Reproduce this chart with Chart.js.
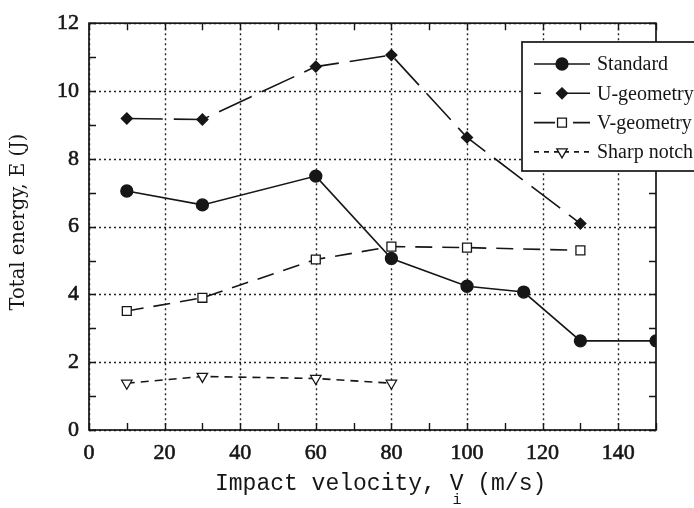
<!DOCTYPE html>
<html>
<head>
<meta charset="utf-8">
<title>Total energy vs impact velocity</title>
<script src="https://cdn.jsdelivr.net/npm/chart.js@4/dist/chart.umd.min.js"></script>
<style>
    html, body { margin: 0; padding: 0; background: #fff; }
    #wrap { width: 694px; height: 508px; }
</style>
</head>
<body>
<div id="wrap"><canvas id="energyChart" width="694" height="508"></canvas></div>
<script>
// tick labels
const xTicks = [0, 20, 40, 60, 80, 100, 120, 140];
const yTicks = [0, 2, 4, 6, 8, 10, 12];

// impact velocity (m/s) / total energy (J) per specimen type
const seriesNames = ['Standard', 'U-geometry', 'V-geometry', 'Sharp notch'];
const standardV = [10, 30, 60, 80, 100, 115, 130, 150];
const standardE = [7.05, 6.64, 7.49, 5.06, 4.24, 4.07, 2.63, 2.63];
const uGeomV = [10, 30, 60, 80, 100, 130];
const uGeomE = [9.19, 9.16, 10.72, 11.06, 8.63, 6.09];
const vGeomV = [10, 30, 60, 80, 100, 130];
const vGeomE = [3.51, 3.90, 5.03, 5.41, 5.38, 5.30];
const sharpV = [10, 30, 60, 80];
const sharpE = [1.38, 1.58, 1.52, 1.38];

const ink = '#161616';
const serif = '"Liberation Serif", "DejaVu Serif", serif';
const wideSerif = '"DejaVu Serif", "Liberation Serif", serif';
const mono = '"Liberation Mono", "DejaVu Sans Mono", monospace';

function pts(xs, ys) {
    return xs.map((x, i) => ({ x: x, y: ys[i] }));
}

// dotted grid, inward ticks on all four sides and the box frame
const frameAndTicks = {
    id: 'frameAndTicks',
    beforeDatasetsDraw(chart) {
        const { ctx, chartArea: a, scales: { x, y } } = chart;
        ctx.save();
        ctx.strokeStyle = '#222';
        ctx.lineWidth = 1.4;
        ctx.setLineDash([2, 3]);
        ctx.beginPath();
        xTicks.forEach(v => {
            const px = Math.round(x.getPixelForValue(v)) + 0.5;
            ctx.moveTo(px, a.top); ctx.lineTo(px, a.bottom);
        });
        yTicks.forEach(v => {
            const py = Math.round(y.getPixelForValue(v)) + 0.5;
            ctx.moveTo(a.left, py); ctx.lineTo(a.right, py);
        });
        ctx.stroke();

        ctx.setLineDash([]);
        ctx.strokeStyle = ink;
        ctx.lineWidth = 1.4;
        ctx.beginPath();
        for (let v = 0; v <= 150; v += 10) {
            const px = Math.round(x.getPixelForValue(v)) + 0.5;
            ctx.moveTo(px, a.bottom); ctx.lineTo(px, a.bottom - 7);
            ctx.moveTo(px, a.top); ctx.lineTo(px, a.top + 7);
        }
        for (let v = 0; v <= 12; v += 1) {
            const py = Math.round(y.getPixelForValue(v)) + 0.5;
            ctx.moveTo(a.left, py); ctx.lineTo(a.left + 7, py);
            ctx.moveTo(a.right, py); ctx.lineTo(a.right - 7, py);
        }
        ctx.stroke();
        ctx.lineWidth = 1.7;
        ctx.strokeRect(a.left, a.top, a.right - a.left, a.bottom - a.top);
        ctx.restore();
    }
};

// axis titles (x title has a subscript i under the V)
const axisTitles = {
    id: 'axisTitles',
    afterDraw(chart) {
        const ctx = chart.ctx;
        ctx.save();
        ctx.fillStyle = ink;
        ctx.font = '19.5px ' + wideSerif;
        ctx.textAlign = 'center';
        ctx.textBaseline = 'middle';
        ctx.translate(19, 222);
        ctx.rotate(-Math.PI / 2);
        ctx.fillText('Total energy, E (J)', 0, 0);
        ctx.restore();

        ctx.save();
        ctx.fillStyle = ink;
        ctx.font = '23px ' + mono;
        ctx.textAlign = 'left';
        ctx.textBaseline = 'alphabetic';
        ctx.fillText('Impact velocity, V (m/s)', 215, 490);
        ctx.font = '15px ' + mono;
        ctx.textAlign = 'center';
        ctx.fillText('i', 457, 504);
        ctx.restore();
    }
};

// boxed legend in the upper right corner
const boxLegend = {
    id: 'boxLegend',
    afterDraw(chart) {
        const ctx = chart.ctx;
        const left = 522, top = 42, bottom = 171;
        ctx.save();
        ctx.fillStyle = '#fff';
        ctx.fillRect(left, top, 200, bottom - top);
        ctx.strokeStyle = ink;
        ctx.lineWidth = 1.7;
        ctx.strokeRect(left, top, 200, bottom - top);

        chart.data.datasets.forEach((ds, i) => {
            const cy = 64 + i * 29.3;
            ctx.strokeStyle = ds.borderColor;
            ctx.lineWidth = ds.borderWidth;
            ctx.setLineDash(ds.legendDash || []);
            ctx.beginPath();
            ctx.moveTo(534, cy);
            ctx.lineTo(590, cy);
            ctx.stroke();
            ctx.setLineDash([]);
            ctx.fillStyle = ds.pointBackgroundColor;
            ctx.strokeStyle = ds.pointBorderColor;
            ctx.lineWidth = ds.pointBorderWidth;
            Chart.helpers.drawPoint(ctx, {
                pointStyle: ds.pointStyle,
                radius: ds.pointRadius,
                rotation: ds.pointRotation || 0,
                borderWidth: ds.pointBorderWidth
            }, 562, cy);
            ctx.fillStyle = ink;
            ctx.font = '20px ' + serif;
            ctx.textAlign = 'left';
            ctx.textBaseline = 'middle';
            ctx.fillText(ds.label, 597, cy + 1);
        });
        ctx.restore();
    }
};

const lineBase = {
    showLine: true,
    borderColor: ink,
    borderWidth: 1.6,
    pointBorderColor: ink,
    pointBorderWidth: 1.3,
    tension: 0
};

const ctx = document.getElementById('energyChart').getContext('2d');
const energyChart = new Chart(ctx, {
    type: 'scatter',
    data: {
        datasets: [
            Object.assign({}, lineBase, {
                label: seriesNames[0], data: pts(standardV, standardE),
                pointStyle: 'circle', pointRadius: 6, pointBackgroundColor: ink
            }),
            Object.assign({}, lineBase, {
                label: seriesNames[1], data: pts(uGeomV, uGeomE),
                borderDash: [36, 11], legendDash: [7, 20, 40, 10],
                pointStyle: 'rectRot', pointRadius: 5.5, pointBackgroundColor: ink
            }),
            Object.assign({}, lineBase, {
                label: seriesNames[2], data: pts(vGeomV, vGeomE),
                borderDash: [17, 10], legendDash: [21, 18],
                pointStyle: 'rect', pointRadius: 6.3, pointBackgroundColor: '#fff'
            }),
            Object.assign({}, lineBase, {
                label: seriesNames[3], data: pts(sharpV, sharpE),
                borderDash: [8, 6], legendDash: [5, 5],
                pointStyle: 'triangle', pointRotation: 180, pointRadius: 6, pointBackgroundColor: '#fff'
            })
        ]
    },
    options: {
        responsive: false,
        animation: false,
        devicePixelRatio: 1,
        layout: { padding: { top: 20, right: 38, left: 0, bottom: 0 } },
        plugins: {
            legend: { display: false },
            tooltip: { enabled: false }
        },
        scales: {
            x: {
                type: 'linear',
                min: 0,
                max: 150,
                afterBuildTicks: s => { s.ticks = xTicks.map(v => ({ value: v })); },
                afterFit: s => { s.height = 78; },
                grid: { display: false, drawTicks: false },
                border: { display: false },
                ticks: {
                    color: ink, padding: 10, maxRotation: 0,
                    textStrokeColor: ink, textStrokeWidth: 0.6,
                    font: { family: serif, size: 22 }
                }
            },
            y: {
                type: 'linear',
                min: 0,
                max: 12,
                afterBuildTicks: s => { s.ticks = yTicks.map(v => ({ value: v })); },
                afterFit: s => { s.width = 89; },
                grid: { display: false, drawTicks: false },
                border: { display: false },
                ticks: {
                    color: ink, padding: 10,
                    textStrokeColor: ink, textStrokeWidth: 0.6,
                    font: { family: serif, size: 22 }
                }
            }
        }
    },
    plugins: [frameAndTicks, axisTitles, boxLegend]
});
</script>
</body>
</html>
